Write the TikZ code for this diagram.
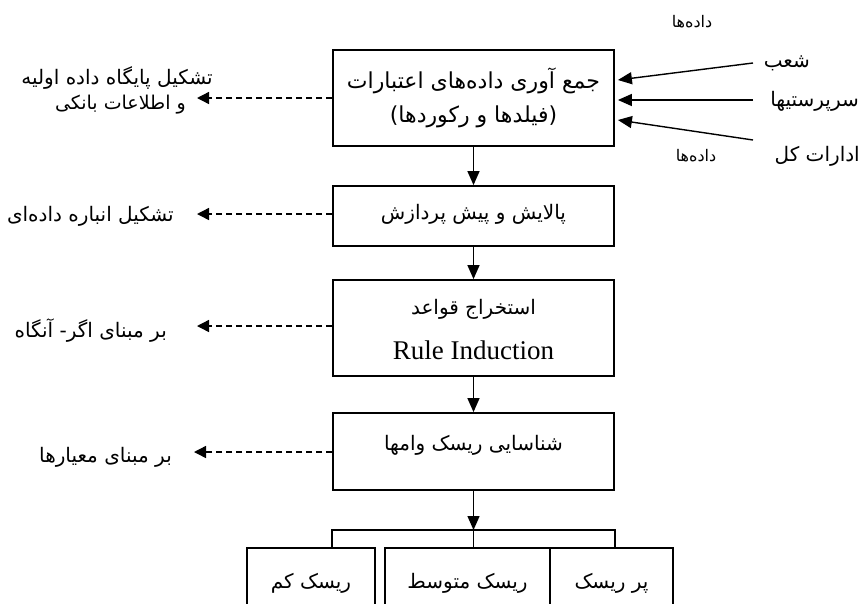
\documentclass[tikz,border=0pt]{standalone}
\usepackage{fontspec}
\setmainfont{Liberation Serif}
\newfontfamily\farsi[Script=Arabic]{DejaVu Sans}
\TeXXeTstate=1
\usetikzlibrary{arrows.meta}
\begin{document}
\begin{tikzpicture}[x=1pt,y=-1pt,
  box/.style={draw, line width=1.8pt, minimum width=281pt, inner sep=0pt},
  rbox/.style={draw, line width=1.8pt, inner sep=0pt, minimum height=92pt},
  arr/.style={-{Triangle[length=14pt,width=12pt]}, line width=1.4pt},
  darr/.style={-{Triangle[length=12pt,width=12pt]}, line width=1.4pt, dash pattern=on 6pt off 4pt},
  lab/.style={inner sep=0pt, font=\farsi\fontsize{20}{24}\selectfont},
  blab/.style={inner sep=0pt, font=\farsi\fontsize{22}{26}\selectfont},
  slab/.style={inner sep=0pt, font=\farsi\fontsize{20}{24}\selectfont},
  dlab/.style={inner sep=0pt, font=\farsi\fontsize{16}{19}\selectfont}]
\useasboundingbox (0,0) rectangle (862,603);
\clip (0,0) rectangle (862,603);
% main boxes
\node[box, minimum height=96pt] (b1) at (473.5,98) {};
\node[box, minimum height=60pt] (b2) at (473.5,216) {};
\node[box, minimum height=96pt] (b3) at (473.5,328) {};
\node[box, minimum height=77pt] (b4) at (473.5,451.5) {};
% box texts
\node[blab] (b1a) at (473.5,81) {\beginR جمع آوری داده‌های اعتبارات\endR};
\node[blab] (b1b) at (473.5,117) {\beginR (فیلدها و رکوردها)\endR};
\node[lab] (b2a) at (473.5,214) {\beginR پالایش و پیش پردازش\endR};
\node[lab] (b3a) at (473.5,309) {\beginR استخراج قواعد\endR};
\node[inner sep=0pt, font=\fontsize{27}{30}\selectfont] (b3b) at (473.5,350) {Rule Induction};
\node[lab] (b4a) at (473.5,445) {\beginR شناسایی ریسک وامها\endR};
% bottom boxes
\node[rbox, minimum width=128pt] (r1) at (311,594) {};
\node[rbox, minimum width=165pt] (r2) at (467.5,594) {};
\node[rbox, minimum width=123pt] (r3) at (611.5,594) {};
\node[lab] (r1t) at (311,583) {\beginR ریسک کم\endR};
\node[lab] (r2t) at (467.5,583) {\beginR ریسک متوسط\endR};
\node[lab] (r3t) at (611.5,583) {\beginR پر ریسک\endR};
% vertical flow
\draw[arr] (b1.south) -- (b2.north);
\draw[arr] (b2.south) -- (b3.north);
\draw[arr] (b3.south) -- (b4.north);
\coordinate (bar) at (473.5,530);
\draw[arr] (b4.south) -- (bar);
\draw[line width=1.6pt] (b4.south west |- r1.north) -- (b4.south west |- bar) -- (b4.south east |- bar) -- (b4.south east |- r3.north);
\draw[line width=1.6pt] (bar) -- (bar |- r2.north);
% left outputs
\coordinate (t1) at (197,98);
\coordinate (t2) at (197,214);
\coordinate (t3) at (197,326);
\coordinate (t4) at (194,452);
\draw[darr] (b1.west) -- (t1);
\draw[darr] (b2.west |- t2) -- (t2);
\draw[darr] (b3.west |- t3) -- (t3);
\draw[darr] (b4.west |- t4) -- (t4);
\node[lab, anchor=east] (l1a) at (213,78) {\beginR تشکیل پایگاه داده اولیه\endR};
\node[lab, anchor=east, font=\farsi\fontsize{19}{22}\selectfont] (l1b) at (186,105) {\beginR و اطلاعات بانکی\endR};
\node[lab, anchor=east] (l2) at (174,216) {\beginR تشکیل انباره داده‌ای\endR};
\node[lab, anchor=east] (l3) at (167,331) {\beginR بر مبنای اگر- آنگاه\endR};
\node[lab, anchor=east] (l4) at (172,457) {\beginR بر مبنای معیارها\endR};
% right inputs
\coordinate (s1) at (753,63);
\coordinate (s2) at (753,100);
\coordinate (s3) at (753,140);
\draw[arr] (s1) -- ([xshift=3pt,yshift=18pt]b1.east);
\draw[arr] (s2) -- ([xshift=3pt,yshift=-2pt]b1.east);
\draw[arr] (s3) -- ([xshift=3pt,yshift=-22pt]b1.east);
\node[slab, anchor=east] (i1) at (810,63) {\beginR شعب\endR};
\node[slab, anchor=east] (i2) at (859,101) {\beginR سرپرستیها\endR};
\node[slab, anchor=east] (i3) at (860,156) {\beginR ادارات کل\endR};
\node[dlab] (d1) at (692,22) {\beginR داده‌ها\endR};
\node[dlab] (d2) at (696,156) {\beginR داده‌ها\endR};
\end{tikzpicture}
\end{document}
